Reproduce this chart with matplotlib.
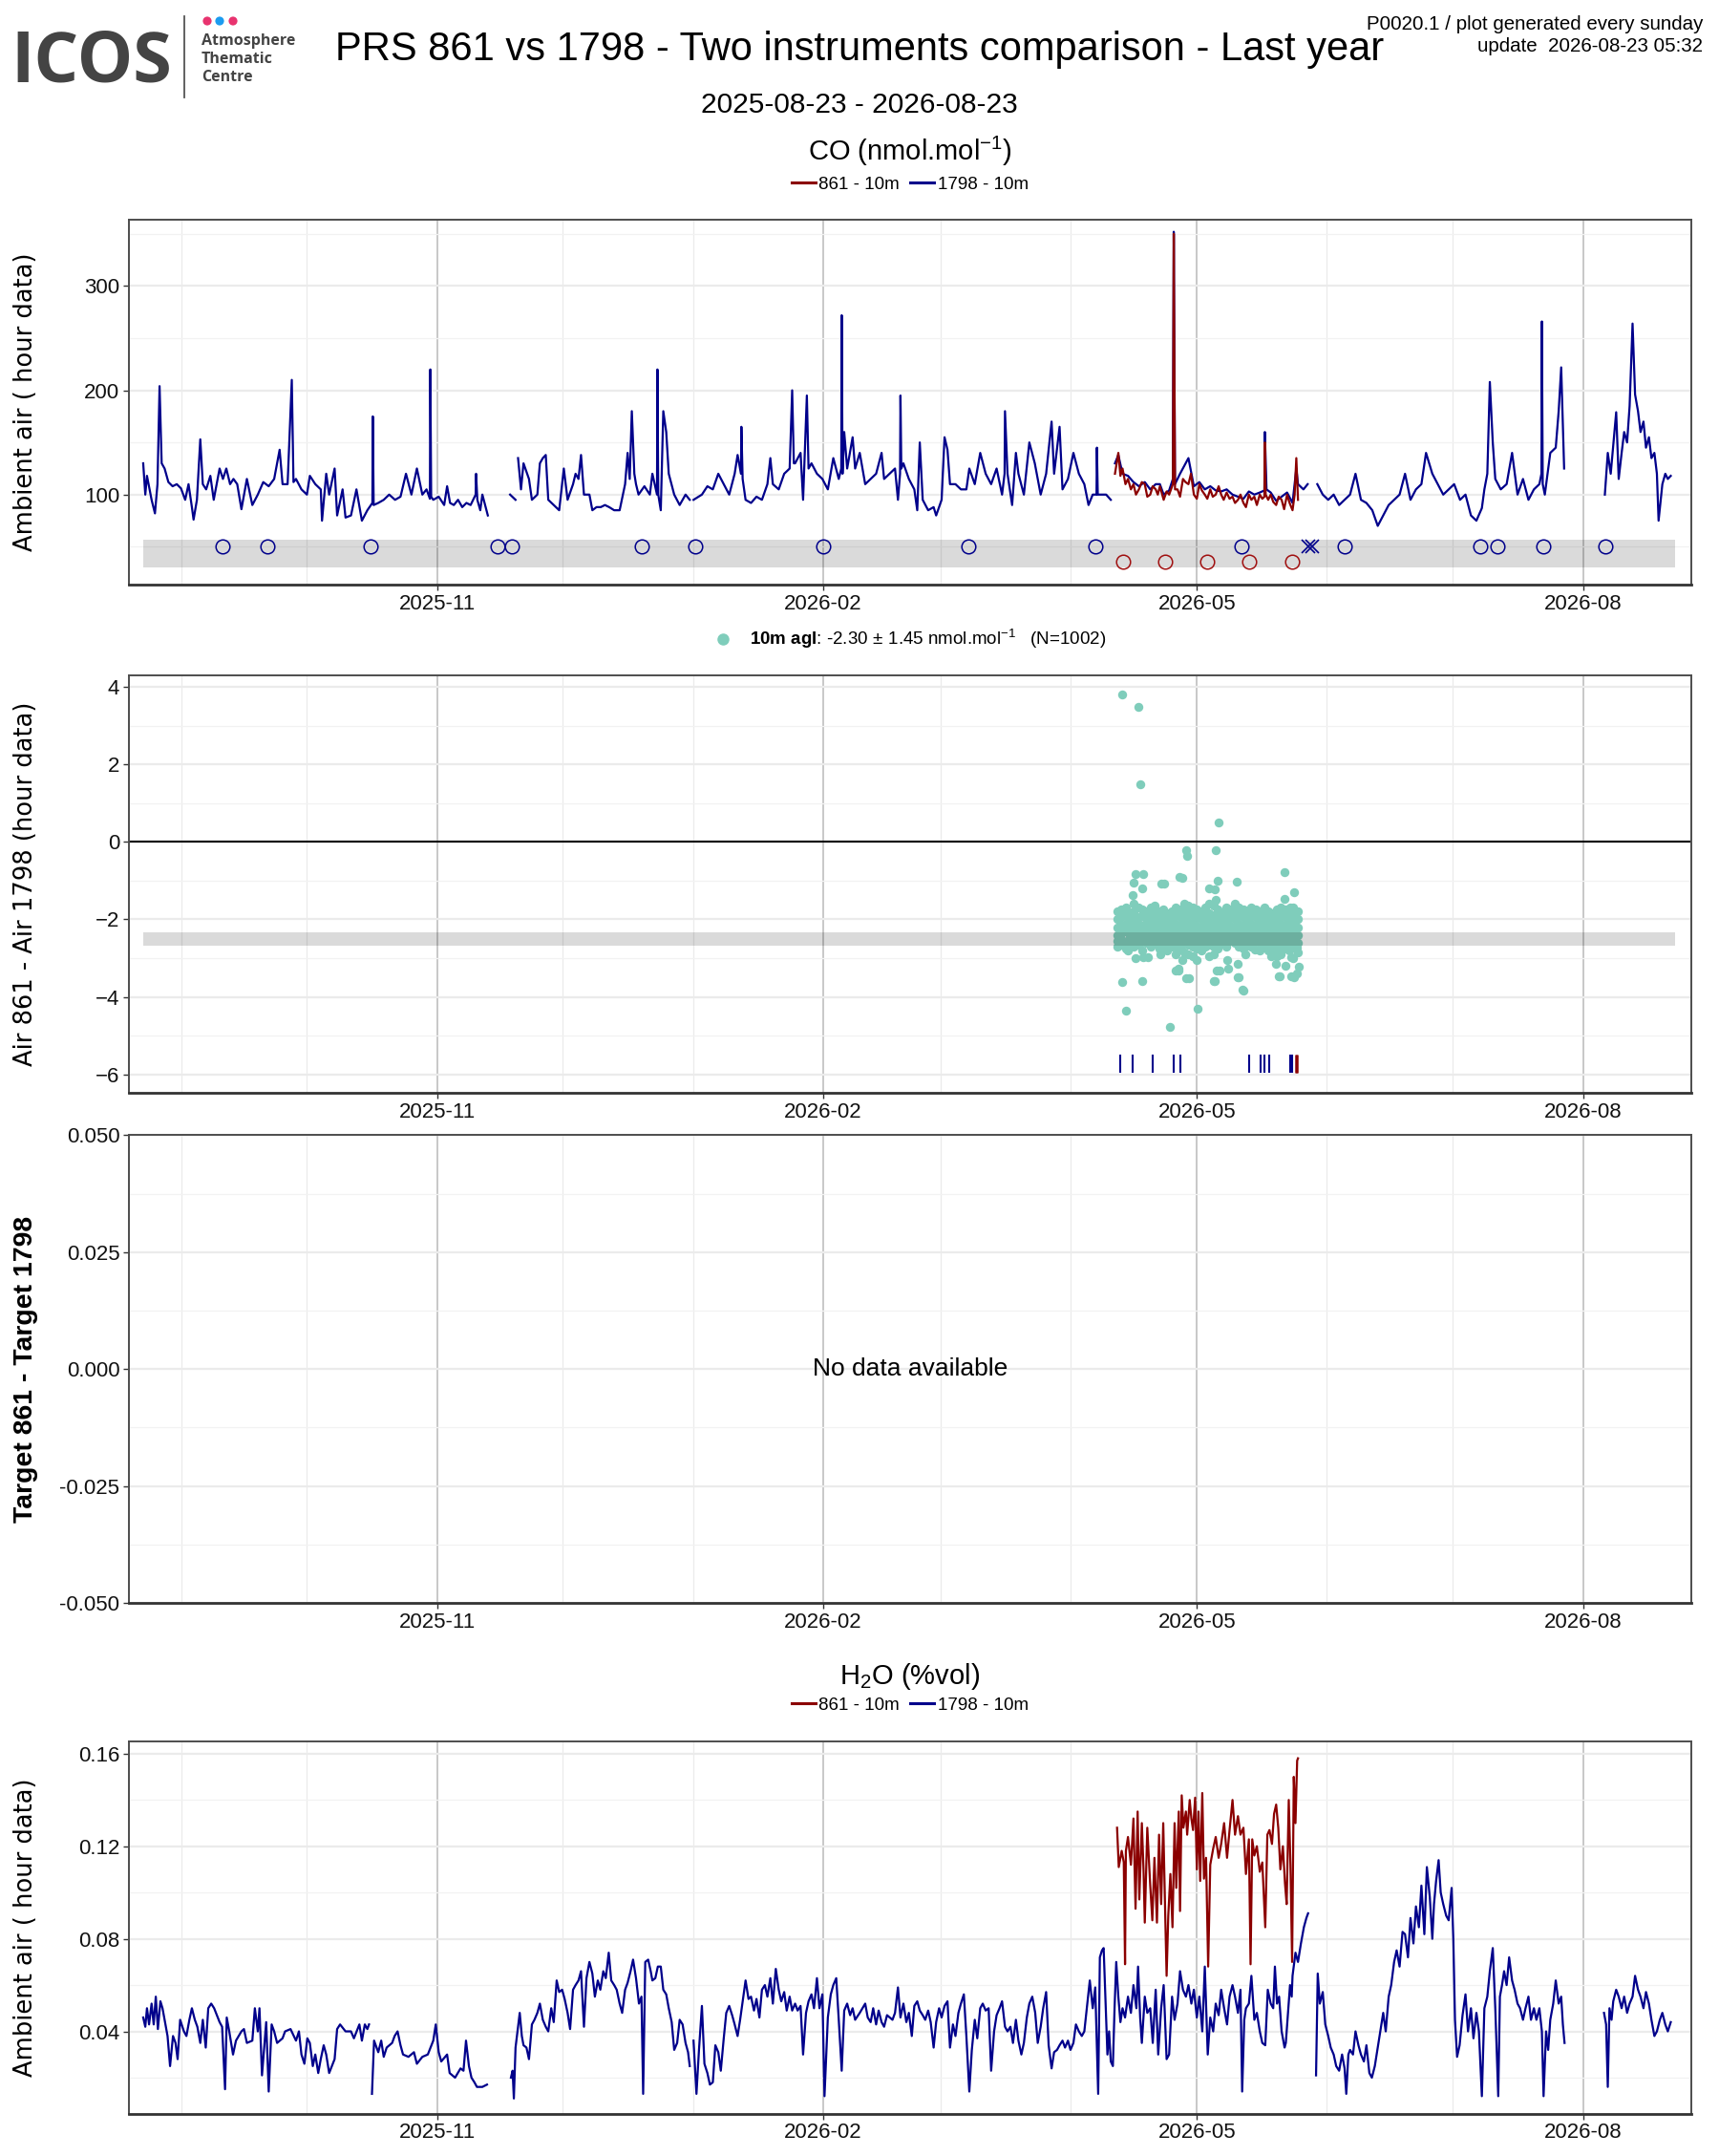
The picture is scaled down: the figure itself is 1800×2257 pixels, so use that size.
import numpy as np
import pandas as pd
import matplotlib
matplotlib.use("Agg")
import matplotlib.pyplot as plt
import matplotlib.dates as mdates
from matplotlib.ticker import MultipleLocator, FixedLocator, FormatStrFormatter
from matplotlib.lines import Line2D
from matplotlib.patches import Circle

plt.rcParams["font.family"] = ["Liberation Sans", "DejaVu Sans"]
plt.rcParams["mathtext.fontset"] = "custom"
plt.rcParams["mathtext.rm"] = "Liberation Sans"
plt.rcParams["mathtext.bf"] = "Liberation Sans:bold"
plt.rcParams["mathtext.it"] = "Liberation Sans:italic"

nan = np.nan
T0 = pd.Timestamp("2025-11-01")  # all day offsets below count from this date

# ---------------- data (day offset from 2025-11-01, value) ----------------
co_1798 = [
    (-70.0, 130), (-69.5, 100), (-69.1, 118), (-68.0, 95), (-67.2, 82), (-66.6, 110), (-66.1, 204), (-65.6, 130),
    (-64.9, 125), (-64.0, 112), (-63.0, 108), (-62.0, 110), (-61.0, 106), (-60.0, 95), (-59.2, 110), (-58.4, 88),
    (-58.0, 76), (-57.2, 95), (-56.4, 153), (-55.8, 110), (-55.0, 105), (-54.0, 118), (-53.2, 95), (-52.5, 110),
    (-51.8, 125), (-51.0, 115), (-50.2, 125), (-49.3, 110), (-48.5, 115), (-47.6, 110), (-46.6, 86), (-45.3, 115),
    (-44.0, 90), (-42.7, 100), (-41.4, 112), (-40.1, 108), (-38.8, 115), (-37.5, 143), (-36.8, 110), (-35.6, 110),
    (-34.6, 210), (-34.2, 112), (-33.6, 115), (-32.3, 105), (-31.0, 100), (-30.3, 118), (-29.0, 110), (-27.7, 105),
    (-27.4, 75), (-26.4, 120), (-25.7, 100), (-24.4, 125), (-23.8, 80), (-22.5, 105), (-21.8, 78), (-20.5, 80),
    (-19.2, 105), (-17.9, 75), (-16.6, 85), (-15.4, 92), (-15.3, 175), (-15.1, 90), (-14.0, 92), (-12.7, 95),
    (-11.4, 100), (-10.0, 95), (-8.7, 98), (-7.4, 120), (-6.1, 100), (-4.8, 125), (-3.5, 100), (-2.5, 105),
    (-1.7, 96), (-1.6, 220), (-1.4, 98), (-0.9, 95), (0.4, 98), (1.7, 90), (2.4, 108), (3.1, 92), (4.0, 90),
    (5.0, 95), (6.0, 88), (7.0, 92), (8.0, 90), (9.2, 100), (9.3, 120), (9.6, 95), (10.3, 85), (10.8, 100),
    (12.1, 80), (12.3, nan), (17.4, 100), (18.7, 95), (18.9, nan), (19.3, 135), (20.0, 105), (20.6, 130),
    (21.9, 115), (22.6, 95), (23.9, 100), (24.5, 130), (25.2, 135), (25.9, 138), (26.5, 95), (27.8, 90),
    (29.1, 85), (30.2, 125), (31.1, 95), (32.4, 110), (33.0, 120), (33.7, 115), (34.3, 138), (35.0, 100),
    (36.3, 100), (37.0, 85), (38.0, 88), (39.0, 88), (40.0, 90), (41.0, 88), (42.2, 85), (43.5, 85),
    (44.8, 110), (45.4, 140), (45.9, 115), (46.4, 180), (47.0, 120), (47.4, 110), (48.0, 100), (49.4, 108),
    (50.7, 100), (51.3, 120), (52.4, 100), (52.5, 220), (52.7, 100), (53.3, 85), (53.9, 180), (54.6, 160),
    (55.2, 120), (56.5, 100), (57.8, 90), (59.2, 100), (60.2, 95), (60.5, nan), (61.1, 95), (63.1, 100),
    (64.4, 108), (65.7, 105), (67.0, 120), (68.3, 110), (69.6, 100), (70.9, 120), (71.6, 138), (72.4, 120),
    (72.5, 165), (72.8, 115), (73.5, 95), (74.8, 92), (76.1, 98), (77.4, 95), (78.7, 110), (79.4, 135),
    (80.0, 110), (81.4, 105), (82.7, 120), (84.0, 125), (84.6, 200), (85.0, 130), (85.3, 130), (86.6, 140),
    (87.2, 95), (88.1, 195), (88.5, 125), (89.2, 130), (90.5, 120), (91.8, 115), (93.1, 105), (94.4, 135),
    (95.7, 115), (96.3, 125), (96.4, 272), (96.6, 120), (97.0, 160), (97.7, 125), (99.0, 155), (99.6, 125),
    (100.7, 140), (102.0, 110), (103.3, 115), (104.6, 120), (105.9, 140), (106.5, 115), (107.8, 120),
    (109.1, 125), (109.8, 95), (110.3, 120), (110.4, 195), (110.6, 125), (111.1, 130), (112.4, 115),
    (113.7, 105), (114.4, 85), (115.0, 150), (115.7, 95), (117.0, 85), (118.3, 88), (118.9, 80), (120.2, 95),
    (120.9, 155), (121.6, 143), (122.2, 110), (123.5, 110), (124.8, 105), (126.1, 105), (126.8, 125),
    (128.1, 110), (129.4, 140), (130.7, 120), (132.0, 110), (133.3, 125), (134.6, 100), (135.2, 120),
    (135.3, 180), (135.9, 120), (137.0, 90), (137.9, 140), (138.5, 120), (139.8, 100), (141.1, 150),
    (142.4, 130), (143.8, 100), (145.1, 120), (146.4, 170), (147.0, 120), (148.3, 165), (149.0, 105),
    (150.3, 115), (151.6, 140), (152.9, 120), (154.2, 110), (155.2, 90), (156.2, 100), (157.1, 100),
    (157.2, 145), (157.4, 100), (158.1, 100), (159.4, 100), (160.5, 95), (161.0, nan), (161.5, 130),
    (162.3, 138), (163.3, 120), (164.6, 118), (165.9, 112), (167.2, 108), (168.6, 112), (169.9, 105),
    (171.2, 110), (172.2, 110), (173.1, 100), (174.4, 104), (175.3, 115), (175.5, 352), (175.8, 110),
    (177.0, 120), (179.0, 135), (180.3, 108), (181.6, 112), (182.9, 105), (184.2, 108), (185.5, 104),
    (186.8, 103), (188.1, 105), (189.5, 100), (190.8, 98), (192.1, 96), (193.4, 103), (194.7, 100),
    (196.0, 102), (197.1, 104), (197.2, 160), (197.6, 105), (198.6, 102), (199.9, 94), (201.2, 98),
    (202.5, 102), (203.8, 92), (204.7, 125), (205.1, 110), (206.4, 105), (207.4, 110), (207.6, nan),
    (209.7, 110), (211.0, 100), (212.3, 95), (213.6, 100), (214.9, 90), (216.2, 95), (217.5, 100),
    (218.8, 120), (220.1, 95), (221.4, 92), (222.8, 85), (224.1, 70), (225.4, 80), (226.7, 90), (228.0, 95),
    (229.3, 100), (230.6, 120), (231.9, 95), (233.2, 105), (234.5, 110), (235.6, 140), (237.1, 120),
    (238.4, 110), (239.7, 100), (241.0, 105), (242.3, 110), (243.7, 95), (245.0, 100), (246.3, 80),
    (247.6, 75), (248.9, 87), (249.5, 105), (250.2, 120), (250.8, 208), (251.5, 150), (252.1, 115),
    (253.4, 105), (254.8, 110), (256.1, 140), (257.4, 100), (258.7, 115), (260.0, 95), (261.3, 105),
    (262.6, 110), (263.1, 120), (263.2, 266), (263.4, 110), (263.9, 100), (265.2, 140), (266.5, 145),
    (267.2, 180), (267.8, 222), (268.5, 125), (268.7, nan), (278.2, 100), (278.9, 140), (279.6, 120),
    (280.9, 179), (281.5, 115), (282.2, 140), (282.8, 160), (283.5, 150), (284.1, 185), (284.8, 264),
    (285.4, 196), (286.1, 180), (286.7, 160), (287.4, 170), (288.0, 145), (288.7, 155), (289.3, 135),
    (290.0, 140), (290.6, 120), (291.0, 75), (291.9, 110), (292.6, 120), (293.2, 115), (293.9, 118),
]

co_861 = [
    (161.5, 120), (162.3, 140), (162.8, 118), (163.3, 125), (164.0, 110), (164.6, 115), (165.3, 105),
    (165.9, 110), (166.5, 100), (167.2, 105), (167.9, 112), (168.6, 110), (169.2, 98), (169.9, 100),
    (170.5, 108), (171.2, 105), (171.7, 100), (172.2, 108), (173.1, 95), (173.8, 103), (174.4, 100),
    (175.3, 110), (175.5, 350), (175.8, 105), (176.4, 105), (177.0, 98), (177.7, 115), (178.3, 112),
    (179.0, 110), (179.6, 120), (180.3, 100), (181.0, 96), (181.6, 110), (182.2, 104), (182.9, 100),
    (183.5, 96), (184.2, 105), (184.8, 98), (185.5, 100), (186.2, 108), (186.8, 100), (187.4, 95),
    (188.1, 102), (188.8, 96), (189.5, 98), (190.1, 92), (190.8, 95), (191.4, 100), (192.1, 92),
    (192.7, 88), (193.4, 100), (194.0, 95), (194.7, 98), (195.3, 90), (196.0, 100), (196.6, 96),
    (197.1, 98), (197.2, 150), (197.4, 100), (198.0, 95), (198.6, 100), (199.2, 93), (199.9, 90),
    (200.5, 98), (201.2, 95), (201.8, 86), (202.5, 100), (203.1, 92), (203.8, 85), (204.3, 100),
    (204.7, 135), (205.1, 95),
]

# flag markers under the CO curves
flag_1798_days = [-51.1, -40.5, -15.9, 14.4, 17.9, 48.7, 61.6, 92.1, 126.6, 156.9, 191.7, 216.2, 248.6, 252.5,
                  263.5, 278.4]
flag_1798_level = 50
cross_1798_days = [207.5, 208.5]
flag_861_days = [163.4, 173.5, 183.5, 193.5, 203.6]
flag_861_level = 36
co_band = (29.8, 57.0)

# Air 861 - Air 1798 differences
diff_cloud = [
    (162, [-1.8, -2.0, -2.2, -2.4, -2.55, -2.7]),
    (163, [-1.75, -1.95, -2.15, -2.35, -2.5, -2.65]),
    (164, [-1.7, -1.9, -2.1, -2.3, -2.6, -2.75]),
    (165, [-1.85, -2.05, -2.25, -2.45, -2.6]),
    (166, [-1.6, -1.8, -2.0, -2.2, -2.4, -2.55, -2.7]),
    (167, [-1.7, -1.95, -2.1, -2.3, -2.5, -2.65]),
    (168, [-1.75, -1.9, -2.15, -2.35, -2.55, -2.8]),
    (169, [-1.8, -2.0, -2.2, -2.45, -2.6]),
    (170, [-1.7, -1.9, -2.1, -2.3, -2.5, -2.7]),
    (171, [-1.65, -1.85, -2.05, -2.25, -2.45, -2.6]),
    (172, [-1.8, -2.0, -2.2, -2.4, -2.55, -2.75]),
    (173, [-1.75, -1.95, -2.15, -2.35, -2.5, -2.65]),
    (174, [-1.85, -2.05, -2.25, -2.45, -2.6, -2.8]),
    (175, [-1.8, -2.0, -2.2, -2.4, -2.55, -2.7]),
    (176, [-1.7, -1.9, -2.1, -2.3, -2.5, -2.7, -2.9]),
    (177, [-1.75, -1.95, -2.15, -2.35, -2.55, -2.75]),
    (178, [-1.6, -1.8, -2.0, -2.2, -2.4, -2.6, -2.85]),
    (179, [-1.65, -1.85, -2.05, -2.25, -2.45, -2.65, -2.9]),
    (180, [-1.7, -1.9, -2.1, -2.3, -2.5, -2.7, -2.95]),
    (181, [-1.75, -1.95, -2.15, -2.35, -2.55, -2.75]),
    (182, [-1.8, -2.0, -2.2, -2.4, -2.6, -2.8]),
    (183, [-1.7, -1.9, -2.1, -2.3, -2.5, -2.7]),
    (184, [-1.6, -1.85, -2.05, -2.25, -2.45, -2.65]),
    (185, [-1.65, -1.9, -2.1, -2.3, -2.5, -2.7, -2.9]),
    (186, [-1.75, -1.95, -2.15, -2.35, -2.55, -2.75]),
    (187, [-1.85, -2.05, -2.25, -2.45, -2.6]),
    (188, [-1.7, -1.9, -2.1, -2.3, -2.5, -2.7]),
    (189, [-1.75, -1.95, -2.15, -2.35, -2.55]),
    (190, [-1.6, -1.8, -2.0, -2.2, -2.4, -2.6]),
    (191, [-1.7, -1.9, -2.1, -2.3, -2.5, -2.7]),
    (192, [-1.75, -1.95, -2.15, -2.35, -2.55, -2.75]),
    (193, [-1.8, -2.0, -2.2, -2.4, -2.6]),
    (194, [-1.7, -1.9, -2.1, -2.3, -2.5, -2.7]),
    (195, [-1.75, -1.95, -2.15, -2.35, -2.55]),
    (196, [-1.8, -2.0, -2.2, -2.4, -2.6, -2.8]),
    (197, [-1.7, -1.9, -2.1, -2.3, -2.5, -2.7]),
    (198, [-1.8, -2.0, -2.2, -2.4, -2.6, -2.8]),
    (199, [-1.85, -2.05, -2.25, -2.45, -2.65, -2.85]),
    (200, [-1.75, -1.95, -2.15, -2.35, -2.55, -2.75, -2.95]),
    (201, [-1.7, -1.9, -2.1, -2.3, -2.5, -2.7, -2.9]),
    (202, [-1.75, -1.95, -2.15, -2.35, -2.55, -2.75]),
    (203, [-1.8, -2.0, -2.2, -2.4, -2.6, -2.8]),
    (204, [-1.7, -1.9, -2.1, -2.3, -2.5, -2.7, -3.0]),
    (205, [-1.8, -2.0, -2.2, -2.4, -2.6, -2.85]),
]
diff_outliers = [
    (163.1, 3.81), (167.0, 3.49), (167.5, 1.50), (186.1, 0.50), (178.5, -0.20), (178.6, -0.35), (185.6, -0.20),
    (166.5, -0.84), (168.3, -0.84), (166.0, -1.05), (168.0, -1.21), (165.7, -1.36), (173.1, -1.07),
    (177.5, -0.93), (185.9, -1.0), (190.5, -1.03), (201.8, -0.78), (204.2, -1.29), (201.8, -1.47),
    (203.2, -1.69), (183.8, -1.21), (185.2, -1.23), (185.6, -1.5), (176.8, -0.91), (172.6, -1.07),
    (162.3, -2.65), (164.6, -2.81), (166.3, -3.0), (168.1, -2.98), (169.3, -2.98), (172.3, -2.9),
    (176.0, -3.31), (176.7, -3.31), (179.1, -3.51), (177.6, -3.06), (180.9, -3.06), (183.8, -2.95),
    (185.3, -3.6), (186.3, -3.33), (188.4, -3.27), (188.2, -3.06), (190.7, -3.14), (190.9, -3.5),
    (192.2, -3.84), (192.5, -2.91), (194.9, -2.77), (198.8, -2.94), (199.9, -3.14), (200.8, -3.47),
    (202.0, -3.2), (203.5, -2.98), (204.1, -3.5), (204.9, -3.39), (205.3, -3.23), (204.9, -2.73),
    (163.2, -3.61), (167.9, -3.6), (164.2, -4.35), (174.6, -4.77), (181.2, -4.3), (204.1, -2.61),
    (185.0, -3.59), (178.5, -3.52), (190.7, -3.5), (200.5, -3.47), (203.4, -3.47), (176.6, -3.28),
    (185.8, -3.32), (191.8, -3.82),
]
diff_band = (-2.68, -2.34)
rug_1798_days = [162.8, 165.6, 170.4, 175.5, 177.0, 193.4, 196.2, 197.1, 198.3, 203.2, 203.8]
rug_861_days = [204.5, 204.8]

h2o_1798 = [
    (-70.0, 0.046), (-69.5, 0.042), (-69.1, 0.050), (-68.6, 0.043), (-68.0, 0.052), (-67.5, 0.043),
    (-67.0, 0.055), (-66.5, 0.041), (-65.9, 0.053), (-65.4, 0.050), (-64.9, 0.045), (-64.2, 0.038),
    (-63.6, 0.025), (-62.9, 0.038), (-62.3, 0.035), (-61.8, 0.028), (-61.2, 0.045), (-60.3, 0.040),
    (-59.7, 0.038), (-59.0, 0.045), (-58.4, 0.050), (-57.7, 0.045), (-57.1, 0.042), (-56.4, 0.035),
    (-55.8, 0.045), (-55.1, 0.033), (-54.5, 0.050), (-53.8, 0.052), (-53.1, 0.050), (-51.8, 0.044),
    (-51.2, 0.042), (-50.5, 0.015), (-50.1, 0.046), (-49.5, 0.040), (-48.6, 0.030), (-47.9, 0.036),
    (-46.6, 0.040), (-46.0, 0.041), (-45.3, 0.035), (-44.0, 0.036), (-43.4, 0.050), (-42.7, 0.040),
    (-42.3, 0.050), (-41.7, 0.021), (-40.7, 0.044), (-40.1, 0.014), (-39.4, 0.043), (-38.8, 0.040),
    (-38.1, 0.035), (-36.8, 0.037), (-36.2, 0.040), (-34.9, 0.041), (-33.6, 0.036), (-32.9, 0.040),
    (-32.3, 0.030), (-31.6, 0.026), (-30.9, 0.037), (-30.3, 0.035), (-29.6, 0.025), (-29.0, 0.030),
    (-28.3, 0.022), (-27.7, 0.028), (-27.0, 0.034), (-26.4, 0.030), (-25.7, 0.022), (-24.4, 0.028),
    (-23.8, 0.041), (-23.1, 0.043), (-21.8, 0.040), (-20.5, 0.040), (-19.8, 0.037), (-18.5, 0.043),
    (-17.9, 0.036), (-17.2, 0.043), (-16.6, 0.041), (-16.2, 0.043), (-16.0, nan), (-15.5, 0.013),
    (-15.0, 0.036), (-14.0, 0.031), (-13.3, 0.036), (-12.7, 0.029), (-12.0, 0.033), (-10.7, 0.035),
    (-10.1, 0.038), (-9.4, 0.040), (-8.7, 0.034), (-8.1, 0.030), (-6.8, 0.029), (-5.5, 0.031),
    (-4.8, 0.026), (-3.5, 0.029), (-2.2, 0.030), (-0.9, 0.036), (-0.3, 0.043), (0.4, 0.031), (1.0, 0.027),
    (2.4, 0.030), (3.0, 0.022), (4.3, 0.020), (5.6, 0.024), (6.3, 0.023), (6.9, 0.036), (7.6, 0.025),
    (8.2, 0.020), (8.9, 0.018), (9.5, 0.016), (10.8, 0.016), (11.9, 0.017), (12.1, nan), (17.6, 0.020),
    (18.0, 0.023), (18.3, 0.011), (18.7, 0.033), (19.3, 0.042), (19.7, 0.048), (20.2, 0.038), (20.6, 0.034),
    (21.3, 0.033), (21.9, 0.028), (22.6, 0.043), (23.2, 0.045), (23.9, 0.048), (24.5, 0.052), (25.2, 0.045),
    (25.9, 0.042), (26.5, 0.040), (27.2, 0.050), (27.8, 0.044), (28.5, 0.062), (29.1, 0.057), (29.8, 0.058),
    (30.4, 0.054), (31.1, 0.048), (31.7, 0.041), (32.4, 0.058), (33.0, 0.060), (33.7, 0.062), (34.3, 0.066),
    (35.0, 0.042), (35.6, 0.063), (36.3, 0.070), (37.0, 0.065), (37.6, 0.055), (38.3, 0.062), (38.9, 0.058),
    (39.6, 0.066), (40.2, 0.063), (40.9, 0.074), (41.5, 0.062), (42.2, 0.060), (42.8, 0.058), (43.5, 0.052),
    (44.1, 0.048), (44.8, 0.058), (45.4, 0.061), (46.1, 0.066), (46.7, 0.071), (47.4, 0.063), (48.1, 0.052),
    (48.7, 0.055), (49.1, 0.013), (49.6, 0.070), (50.3, 0.071), (50.9, 0.066), (51.3, 0.062), (52.0, 0.063),
    (52.6, 0.068), (53.3, 0.068), (53.9, 0.058), (54.6, 0.056), (55.2, 0.050), (55.9, 0.044), (56.5, 0.032),
    (57.2, 0.035), (57.8, 0.045), (58.5, 0.043), (59.2, 0.035), (59.8, 0.031), (60.2, 0.025), (60.5, nan),
    (61.1, 0.036), (61.8, 0.013), (62.4, 0.032), (63.1, 0.051), (63.7, 0.026), (64.4, 0.022), (65.0, 0.017),
    (65.7, 0.018), (66.3, 0.034), (67.0, 0.031), (67.6, 0.023), (68.3, 0.037), (68.9, 0.048), (69.6, 0.051),
    (70.3, 0.047), (70.9, 0.043), (71.6, 0.038), (72.2, 0.045), (72.9, 0.054), (73.5, 0.062), (74.2, 0.054),
    (74.8, 0.055), (75.5, 0.049), (76.1, 0.054), (76.8, 0.046), (77.4, 0.058), (78.1, 0.060), (78.7, 0.055),
    (79.4, 0.063), (80.0, 0.052), (80.7, 0.067), (81.4, 0.058), (82.0, 0.053), (82.7, 0.057), (83.3, 0.049),
    (84.0, 0.055), (84.6, 0.049), (85.3, 0.052), (85.9, 0.049), (86.6, 0.051), (87.2, 0.030), (87.9, 0.048),
    (88.5, 0.053), (89.2, 0.056), (89.8, 0.050), (90.5, 0.063), (91.1, 0.050), (91.8, 0.056), (92.3, 0.012),
    (93.1, 0.046), (93.8, 0.056), (94.4, 0.060), (95.1, 0.063), (95.7, 0.045), (96.4, 0.023), (97.0, 0.049),
    (97.7, 0.052), (98.4, 0.047), (99.0, 0.050), (99.6, 0.045), (100.7, 0.048), (102.0, 0.052),
    (102.6, 0.046), (103.3, 0.044), (103.9, 0.050), (104.6, 0.043), (105.2, 0.049), (105.9, 0.044),
    (106.5, 0.042), (107.2, 0.047), (108.5, 0.045), (109.1, 0.048), (109.8, 0.059), (110.4, 0.046),
    (111.1, 0.052), (111.8, 0.044), (112.4, 0.048), (113.1, 0.038), (113.7, 0.051), (114.4, 0.053),
    (115.0, 0.049), (115.7, 0.047), (116.3, 0.045), (117.0, 0.049), (117.6, 0.044), (118.3, 0.033),
    (118.9, 0.044), (119.6, 0.050), (120.2, 0.046), (120.9, 0.051), (121.6, 0.053), (122.2, 0.033),
    (122.9, 0.043), (123.5, 0.038), (124.2, 0.048), (124.8, 0.052), (125.5, 0.056), (126.1, 0.038),
    (126.8, 0.014), (127.4, 0.032), (128.1, 0.045), (128.7, 0.037), (129.4, 0.050), (130.0, 0.052),
    (130.7, 0.049), (131.4, 0.050), (132.0, 0.023), (132.7, 0.040), (133.3, 0.047), (134.0, 0.050),
    (134.6, 0.053), (135.3, 0.042), (135.9, 0.040), (136.6, 0.042), (137.2, 0.035), (137.9, 0.045),
    (138.5, 0.036), (139.2, 0.030), (139.8, 0.035), (140.5, 0.046), (141.1, 0.052), (141.8, 0.055),
    (142.5, 0.048), (143.1, 0.035), (143.8, 0.042), (144.4, 0.050), (145.1, 0.057), (145.7, 0.034),
    (146.4, 0.024), (147.0, 0.031), (147.7, 0.032), (148.3, 0.034), (149.0, 0.036), (149.6, 0.033),
    (150.3, 0.036), (150.9, 0.032), (151.6, 0.035), (152.2, 0.043), (152.9, 0.040), (153.6, 0.038),
    (154.2, 0.040), (154.9, 0.052), (155.5, 0.062), (156.2, 0.050), (156.8, 0.059), (157.5, 0.013),
    (157.9, 0.072), (158.4, 0.075), (158.8, 0.076), (159.2, 0.055), (159.7, 0.030), (160.1, 0.040),
    (160.5, 0.027), (161.0, 0.025), (161.4, 0.050), (161.8, 0.070), (162.3, 0.055), (162.8, 0.044),
    (163.3, 0.050), (163.9, 0.046), (164.6, 0.055), (165.3, 0.048), (165.9, 0.060), (166.6, 0.050),
    (167.0, 0.068), (167.5, 0.046), (167.9, 0.035), (168.6, 0.055), (169.2, 0.048), (169.9, 0.050),
    (170.5, 0.035), (171.2, 0.058), (171.8, 0.030), (172.5, 0.050), (173.1, 0.060), (173.8, 0.028),
    (174.4, 0.030), (175.1, 0.055), (175.7, 0.045), (176.4, 0.052), (177.0, 0.066), (177.7, 0.058),
    (178.4, 0.055), (179.0, 0.060), (179.7, 0.052), (180.3, 0.058), (181.0, 0.046), (181.6, 0.055),
    (182.3, 0.040), (182.9, 0.068), (183.6, 0.030), (184.2, 0.046), (184.9, 0.040), (185.5, 0.052),
    (186.2, 0.047), (186.8, 0.058), (187.5, 0.050), (188.2, 0.043), (188.8, 0.055), (189.5, 0.060),
    (190.1, 0.055), (190.8, 0.048), (191.4, 0.058), (191.8, 0.014), (192.3, 0.045), (192.7, 0.050),
    (193.4, 0.052), (194.0, 0.064), (194.7, 0.045), (195.3, 0.048), (196.0, 0.040), (196.6, 0.035),
    (197.3, 0.034), (197.9, 0.058), (198.6, 0.052), (199.2, 0.050), (199.6, 0.068), (200.1, 0.052),
    (200.6, 0.055), (201.2, 0.040), (201.9, 0.033), (202.2, 0.035), (202.8, 0.050), (203.2, 0.060),
    (203.6, 0.055), (203.8, 0.064), (204.5, 0.074), (205.1, 0.070), (205.8, 0.078), (206.5, 0.085),
    (207.1, 0.089), (207.5, 0.091), (207.7, nan), (209.4, 0.021), (209.8, 0.065), (210.3, 0.052),
    (211.0, 0.057), (211.6, 0.043), (212.3, 0.038), (212.9, 0.033), (213.6, 0.030), (214.2, 0.025),
    (214.9, 0.023), (215.6, 0.030), (216.2, 0.024), (216.6, 0.013), (217.1, 0.030), (217.5, 0.032),
    (218.2, 0.030), (218.8, 0.040), (219.5, 0.034), (220.1, 0.030), (220.8, 0.027), (221.4, 0.034),
    (222.1, 0.022), (222.7, 0.020), (223.4, 0.025), (224.1, 0.033), (224.7, 0.040), (225.4, 0.048),
    (226.0, 0.040), (226.7, 0.055), (227.3, 0.060), (228.0, 0.070), (228.6, 0.075), (229.3, 0.068),
    (230.0, 0.083), (230.6, 0.082), (231.3, 0.072), (231.9, 0.089), (232.6, 0.078), (233.2, 0.094),
    (233.9, 0.085), (234.5, 0.103), (235.2, 0.082), (235.8, 0.111), (236.5, 0.098), (237.1, 0.080),
    (237.5, 0.095), (238.0, 0.105), (238.6, 0.114), (239.1, 0.100), (239.7, 0.095), (240.4, 0.090),
    (241.0, 0.088), (241.7, 0.102), (242.1, 0.080), (242.5, 0.045), (243.0, 0.029), (243.6, 0.034),
    (244.3, 0.047), (245.0, 0.056), (245.6, 0.040), (246.3, 0.050), (246.9, 0.037), (247.6, 0.048),
    (248.2, 0.040), (248.9, 0.012), (249.5, 0.050), (250.2, 0.055), (250.8, 0.066), (251.5, 0.076),
    (252.1, 0.050), (252.8, 0.012), (253.2, 0.055), (253.7, 0.060), (254.2, 0.066), (254.8, 0.060),
    (255.4, 0.072), (256.1, 0.062), (256.7, 0.058), (257.4, 0.052), (258.0, 0.050), (258.7, 0.045),
    (259.3, 0.050), (260.0, 0.055), (260.6, 0.045), (261.3, 0.050), (261.9, 0.045), (262.6, 0.050),
    (263.2, 0.040), (263.6, 0.012), (264.2, 0.040), (264.7, 0.032), (265.2, 0.045), (265.9, 0.052),
    (266.5, 0.062), (267.2, 0.052), (267.8, 0.055), (268.2, 0.043), (268.6, 0.035), (268.8, nan),
    (278.0, 0.048), (278.5, 0.043), (278.9, 0.016), (279.3, 0.050), (279.8, 0.045), (280.2, 0.053),
    (280.9, 0.058), (281.5, 0.055), (282.2, 0.050), (282.8, 0.055), (283.5, 0.048), (284.1, 0.052),
    (284.8, 0.055), (285.4, 0.064), (286.1, 0.058), (286.7, 0.055), (287.4, 0.050), (288.0, 0.057),
    (288.7, 0.052), (289.3, 0.045), (290.0, 0.038), (290.6, 0.040), (291.3, 0.045), (291.9, 0.048),
    (292.6, 0.043), (293.2, 0.040), (293.9, 0.044),
]

h2o_861 = [
    (162.0, 0.128), (162.4, 0.111), (163.1, 0.118), (163.6, 0.113), (163.9, 0.069), (164.1, 0.118),
    (164.6, 0.124), (165.3, 0.112), (165.9, 0.132), (166.4, 0.093), (166.9, 0.135), (167.3, 0.097),
    (167.9, 0.130), (168.3, 0.110), (168.6, 0.087), (169.2, 0.128), (169.9, 0.103), (170.4, 0.088),
    (170.9, 0.115), (171.5, 0.087), (172.0, 0.125), (172.5, 0.095), (173.0, 0.130), (173.5, 0.088),
    (173.8, 0.064), (174.2, 0.090), (174.7, 0.108), (175.2, 0.085), (175.7, 0.130), (176.1, 0.102),
    (176.7, 0.135), (177.0, 0.092), (177.4, 0.142), (177.8, 0.128), (178.4, 0.135), (178.7, 0.125),
    (179.3, 0.140), (179.7, 0.132), (180.1, 0.127), (180.6, 0.141), (181.0, 0.110), (181.4, 0.135),
    (181.8, 0.105), (182.3, 0.143), (182.7, 0.106), (183.2, 0.115), (183.7, 0.068), (184.2, 0.112),
    (184.9, 0.119), (185.5, 0.124), (186.2, 0.115), (186.8, 0.121), (187.5, 0.130), (188.2, 0.115),
    (188.8, 0.127), (189.5, 0.140), (190.1, 0.125), (190.8, 0.133), (191.4, 0.125), (192.1, 0.128),
    (192.7, 0.108), (193.4, 0.123), (193.8, 0.069), (194.2, 0.123), (194.7, 0.116), (195.3, 0.120),
    (196.0, 0.109), (196.6, 0.113), (197.3, 0.085), (197.8, 0.125), (198.3, 0.127), (198.9, 0.121),
    (199.4, 0.134), (199.9, 0.138), (200.4, 0.128), (200.9, 0.110), (201.5, 0.120), (202.0, 0.104),
    (202.4, 0.095), (202.9, 0.140), (203.3, 0.112), (203.7, 0.070), (204.1, 0.150), (204.5, 0.130),
    (204.9, 0.157), (205.1, 0.158),
]

period_days = (-70.0, 295.0)  # 2025-08-23 .. 2026-08-23
x_view_days = (-73.4, 298.8)

C_861 = "#8B0000"
C_1798 = "#00008B"
C_DIFF = "#7FCDBB"
LW = 1.6


def to_dates(days):
    return T0 + pd.to_timedelta(np.asarray(days, dtype=float), unit="D")


def split(points):
    arr = np.array(points, dtype=float)
    return to_dates(arr[:, 0]), arr[:, 1]


def style_axes(ax):
    ax.set_xlim(to_dates(x_view_days))
    ax.xaxis.set_major_locator(mdates.MonthLocator(bymonth=[2, 5, 8, 11]))
    ax.xaxis.set_minor_locator(mdates.MonthLocator())
    ax.xaxis.set_major_formatter(mdates.DateFormatter("%Y-%m"))
    ax.set_axisbelow(True)
    ax.grid(which="major", axis="x", color="#C8C8C8", lw=1.4)
    ax.grid(which="minor", axis="x", color="#EBEBEB", lw=0.9)
    ax.grid(which="major", axis="y", color="#EBEBEB", lw=1.6)
    ax.grid(which="minor", axis="y", color="#F2F2F2", lw=0.9)
    ax.tick_params(which="major", direction="out", length=4, width=1, color="#333333",
                   labelsize=16, pad=3, labelcolor="#111111")
    ax.tick_params(which="minor", length=0)
    for side in ["left", "top", "right"]:
        ax.spines[side].set_color("#4D4D4D")
        ax.spines[side].set_linewidth(1.4)
    ax.spines["bottom"].set_color("#333333")
    ax.spines["bottom"].set_linewidth(2.0)
    ax.yaxis.set_label_coords(-0.058, 0.5)


W, H = 1800, 2257
fig = plt.figure(figsize=(W / 100, H / 100), dpi=100)

# header drawn in pixel coordinates
hdr = fig.add_axes([0, 0, 1, 1])
hdr.set_xlim(0, W)
hdr.set_ylim(H, 0)
hdr.axis("off")
hdr.text(11, 86, "ICOS", fontsize=53, fontweight="bold", color="#444444", family="Open Sans", va="baseline")
hdr.plot([193, 193], [17, 102], color="#555555", lw=1.3)
for cx, col in [(217, "#E8336F"), (230, "#1C9CF0"), (244, "#E8336F")]:
    hdr.add_patch(Circle((cx, 22), 4.6, color=col, lw=0))
for yy, word in [(47, "Atmosphere"), (66, "Thematic"), (85, "Centre")]:
    hdr.text(211, yy, word, fontsize=11.5, fontweight="bold", color="#444444", family="Open Sans",
             va="baseline")
hdr.text(900, 63, "PRS 861 vs 1798 - Two instruments comparison - Last year", fontsize=30,
         ha="center", va="baseline")
hdr.text(900, 118, "2025-08-23 - 2026-08-23", fontsize=21.5, ha="center", va="baseline")
hdr.text(1783, 31, "P0020.1 / plot generated every sunday", fontsize=14.8, ha="right", va="baseline")
hdr.text(1783, 54, "update  2026-08-23 05:32", fontsize=14.8, ha="right", va="baseline")
hdr.text(953, 168, r"CO (nmol.mol$^{-1}$)", fontsize=21, ha="center", va="baseline")
hdr.text(953, 1763, r"H$_2$O (%vol)", fontsize=21, ha="center", va="baseline")

ax1 = fig.add_axes([0.075, 0.7288, 0.9089, 0.1695])
ax2 = fig.add_axes([0.075, 0.4931, 0.9089, 0.1936])
ax3 = fig.add_axes([0.075, 0.2565, 0.9089, 0.2170])
ax4 = fig.add_axes([0.075, 0.0197, 0.9089, 0.1727])

band_x = to_dates(period_days)

# ---- panel 1: CO ambient air
style_axes(ax1)
ax1.fill_between(band_x, co_band[0], co_band[1], color="black", alpha=0.145, lw=0, zorder=1)
x, y = split(co_1798)
ax1.plot(x, y, color=C_1798, lw=LW, zorder=3)
x, y = split(co_861)
ax1.plot(x, y, color=C_861, lw=LW, zorder=4)
ax1.plot(to_dates(flag_1798_days), [flag_1798_level] * len(flag_1798_days), ls="none", marker="o",
         mfc="none", mec=C_1798, ms=10.5, mew=1.1, zorder=5)
ax1.plot(to_dates(cross_1798_days), [flag_1798_level] * len(cross_1798_days), ls="none", marker="x",
         color=C_1798, ms=10.5, mew=1.2, zorder=5)
ax1.plot(to_dates(flag_861_days), [flag_861_level] * len(flag_861_days), ls="none", marker="o",
         mfc="none", mec="#A01010", ms=10.5, mew=1.1, zorder=5)
ax1.set_ylim(13.6, 364)
ax1.yaxis.set_major_locator(FixedLocator([100, 200, 300]))
ax1.yaxis.set_minor_locator(MultipleLocator(50))
ax1.set_ylabel("Ambient air ( hour data)", fontsize=18.5, family="DejaVu Sans")
leg_handles = [Line2D([], [], color=C_861, lw=2.2), Line2D([], [], color=C_1798, lw=2.2)]
ax1.legend(leg_handles, ["861 - 10m", "1798 - 10m"], ncol=2, loc="center", bbox_to_anchor=(0.5, 1.095),
           frameon=False, fontsize=13.5, handlelength=1.3, handletextpad=0.2, columnspacing=0.6)

# ---- panel 2: Air 861 - Air 1798
style_axes(ax2)
cloud_x, cloud_y = [], []
for day, vals in diff_cloud:
    cloud_x += [day] * len(vals)
    cloud_y += vals
ox, oy = split(diff_outliers)
ax2.scatter(to_dates(cloud_x), cloud_y, s=46, color=C_DIFF, lw=0, zorder=3)
ax2.scatter(ox, oy, s=46, color=C_DIFF, lw=0, zorder=3)
ax2.fill_between(band_x, diff_band[0], diff_band[1], color="black", alpha=0.145, lw=0, zorder=4)
ax2.axhline(0, color="black", lw=1.5, zorder=2)
ax2.vlines(to_dates(rug_1798_days), -5.97, -5.5, colors=C_1798, lw=1.5, zorder=5)
ax2.vlines(to_dates(rug_861_days), -5.97, -5.5, colors=C_861, lw=1.8, zorder=6)
ax2.set_ylim(-6.48, 4.3)
ax2.yaxis.set_major_locator(MultipleLocator(2))
ax2.yaxis.set_minor_locator(MultipleLocator(1))
ax2.set_ylabel("Air 861 - Air 1798 (hour data)", fontsize=18.5, family="DejaVu Sans")
diff_handle = Line2D([], [], ls="none", marker="o", color=C_DIFF, ms=8)
ax2.legend([diff_handle], [r"$\bf{10m\ agl}$: -2.30$\,\pm\,$1.45 nmol.mol$^{-1}$   (N=1002)"], loc="center",
           bbox_to_anchor=(0.5, 1.087), frameon=False, fontsize=13.5, handlelength=1.0, handletextpad=1.0)

# ---- panel 3: target difference (no data)
style_axes(ax3)
ax3.set_ylim(-0.05, 0.05)
ax3.yaxis.set_major_locator(FixedLocator([-0.05, -0.025, 0.0, 0.025, 0.05]))
ax3.yaxis.set_minor_locator(MultipleLocator(0.0125))
ax3.yaxis.set_major_formatter(FormatStrFormatter("%.3f"))
ax3.set_ylabel("Target 861 - Target 1798", fontsize=20.4, fontweight="bold")
ax3.text(0.5, 0.5, "No data available", transform=ax3.transAxes, ha="center", va="center", fontsize=19)

# ---- panel 4: H2O ambient air
style_axes(ax4)
x, y = split(h2o_1798)
ax4.plot(x, y, color=C_1798, lw=LW, zorder=3)
x, y = split(h2o_861)
ax4.plot(x, y, color=C_861, lw=LW, zorder=4)
ax4.set_ylim(0.0045, 0.1654)
ax4.yaxis.set_major_locator(FixedLocator([0.04, 0.08, 0.12, 0.16]))
ax4.yaxis.set_minor_locator(MultipleLocator(0.02))
ax4.yaxis.set_major_formatter(FormatStrFormatter("%.2f"))
ax4.set_ylabel("Ambient air ( hour data)", fontsize=18.5, family="DejaVu Sans")
ax4.legend(leg_handles, ["861 - 10m", "1798 - 10m"], ncol=2, loc="center", bbox_to_anchor=(0.5, 1.0967),
           frameon=False, fontsize=13.5, handlelength=1.3, handletextpad=0.2, columnspacing=0.6)

fig.savefig("out.png", dpi=100)
